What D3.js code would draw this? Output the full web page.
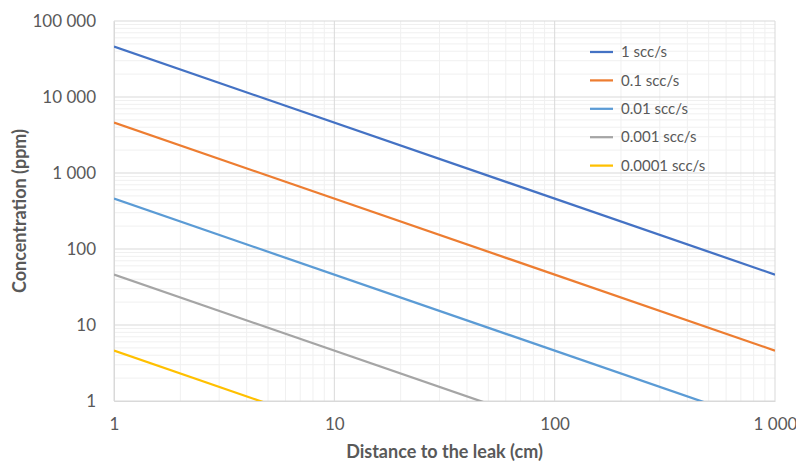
<!DOCTYPE html>
<html>
<head>
<meta charset="utf-8">
<script src="https://cdn.jsdelivr.net/npm/d3@7"></script>
<style>
  body { margin: 0; background: #fff; }
  text { font-family: Lato, "Open Sans", sans-serif; }
</style>
</head>
<body>
<div id="chart"></div>
<script>
// series: concentration at 1 cm for each leak rate, falls as 1/distance
var seriesNames = ["1 scc/s", "0.1 scc/s", "0.01 scc/s", "0.001 scc/s", "0.0001 scc/s"]
var concAt1cm = [46000, 4600, 460, 46, 4.6]
var distances = [1, 1000]
var colors = ["#4472C4", "#ED7D31", "#5B9BD5", "#A5A5A5", "#FFC000"]
var xTicks = [1, 10, 100, 1000]
var yTicks = [1, 10, 100, 1000, 10000, 100000]

var W = 796, H = 462
var margin = { top: 21, right: 21, bottom: 61, left: 114 }
var width = W - margin.left - margin.right,
  height = H - margin.top - margin.bottom

var svg = d3.select("#chart").append("svg")
  .attr("width", W).attr("height", H)

var g = svg.append("g")
  .attr("transform", "translate(" + margin.left + "," + margin.top + ")")

var x = d3.scaleLog().domain([1, 1000]).range([0, width])
var y = d3.scaleLog().domain([1, 100000]).range([height, 0])

var fmt = function (v) { return d3.format(",")(v).replace(/,/g, " ") }

// minor gridlines (2..9 in each decade)
var xMinor = [], yMinor = []
xTicks.slice(0, -1).forEach(function (t) { for (var k = 2; k < 10; k++) xMinor.push(t * k) })
yTicks.slice(0, -1).forEach(function (t) { for (var k = 2; k < 10; k++) yMinor.push(t * k) })

g.selectAll(".xminor").data(xMinor).enter().append("line")
  .attr("x1", function (d) { return x(d) }).attr("x2", function (d) { return x(d) })
  .attr("y1", 0).attr("y2", height)
  .style("stroke", "#f0f0f0").style("stroke-width", 1)
g.selectAll(".yminor").data(yMinor).enter().append("line")
  .attr("y1", function (d) { return y(d) }).attr("y2", function (d) { return y(d) })
  .attr("x1", 0).attr("x2", width)
  .style("stroke", "#f0f0f0").style("stroke-width", 1)

// major gridlines
g.selectAll(".xmajor").data(xTicks).enter().append("line")
  .attr("x1", function (d) { return x(d) }).attr("x2", function (d) { return x(d) })
  .attr("y1", 0).attr("y2", height)
  .style("stroke", "#d9d9d9").style("stroke-width", 1)
g.selectAll(".ymajor").data(yTicks).enter().append("line")
  .attr("y1", function (d) { return y(d) }).attr("y2", function (d) { return y(d) })
  .attr("x1", 0).attr("x2", width)
  .style("stroke", "#d9d9d9").style("stroke-width", 1)

// axes (labels only, lines drawn by the grid)
var xAxis = g.append("g").attr("transform", "translate(0," + height + ")")
  .call(d3.axisBottom(x).tickValues(xTicks).tickFormat(fmt).tickSize(0).tickPadding(17))
var yAxis = g.append("g")
  .call(d3.axisLeft(y).tickValues(yTicks).tickFormat(fmt).tickSize(0).tickPadding(18))
;[xAxis, yAxis].forEach(function (a) {
  a.select(".domain").style("stroke", "#d9d9d9")
  a.selectAll("text").style("font-family", "Lato, 'Open Sans', sans-serif")
    .style("font-size", "17px").style("fill", "#595959")
})

// lines
var line = d3.line()
  .x(function (d) { return x(d[0]) })
  .y(function (d) { return y(d[1]) })

g.append("clipPath").attr("id", "clip").append("rect")
  .attr("width", width).attr("height", height)

g.append("g").attr("clip-path", "url(#clip)")
  .selectAll("path").data(concAt1cm).enter().append("path")
  .attr("d", function (c) {
    return line(distances.map(function (d) { return [d, c / d] }))
  })
  .style("fill", "none")
  .style("stroke", function (c, i) { return colors[i] })
  .style("stroke-width", 2.25)

// axis titles
svg.append("text")
  .attr("x", margin.left + width / 2).attr("y", 452).attr("dy", "0.35em")
  .attr("text-anchor", "middle")
  .style("font-size", "18px").style("font-weight", "bold").style("fill", "#595959")
  .text("Distance to the leak (cm)")

svg.append("text")
  .attr("transform", "translate(20," + (margin.top + height / 2) + ") rotate(-90)")
  .attr("dy", "0.35em")
  .attr("text-anchor", "middle")
  .style("font-size", "18px").style("font-weight", "bold").style("fill", "#595959")
  .text("Concentration (ppm)")

// legend
var legend = svg.append("g").attr("transform", "translate(590,52)")
var rowH = 28.4
legend.selectAll("line").data(seriesNames).enter().append("line")
  .attr("x1", 0).attr("x2", 23)
  .attr("y1", function (d, i) { return i * rowH }).attr("y2", function (d, i) { return i * rowH })
  .style("stroke", function (d, i) { return colors[i] })
  .style("stroke-width", 2.25)
legend.selectAll("text").data(seriesNames).enter().append("text")
  .attr("x", 31)
  .attr("y", function (d, i) { return i * rowH })
  .attr("dy", "0.35em")
  .style("font-size", "15px").style("fill", "#595959")
  .text(function (d) { return d })
</script>
</body>
</html>
